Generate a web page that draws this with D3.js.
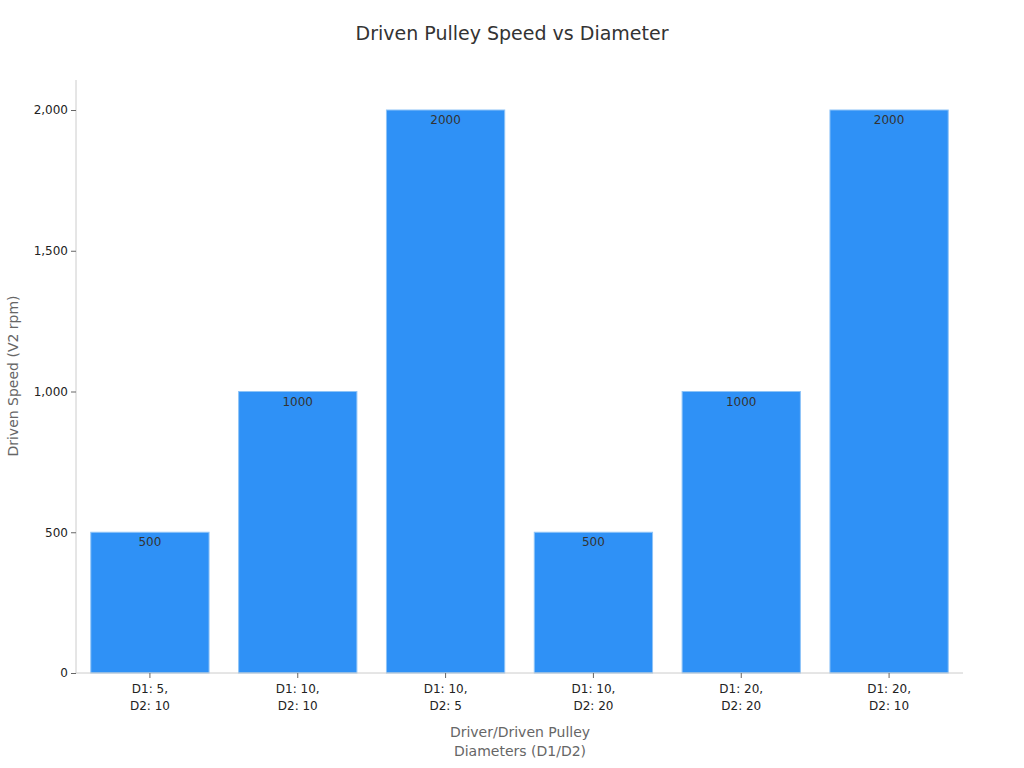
<!DOCTYPE html>
<html><head><meta charset="utf-8">
<script src="https://cdn.jsdelivr.net/npm/d3@7"></script>
<style>body{margin:0;background:#fff;font-family:"DejaVu Sans",sans-serif}</style>
</head><body><svg id="c" width="1024" height="768"></svg>
<script>
const categoriesLine1 = ["D1: 5,","D1: 10,","D1: 10,","D1: 10,","D1: 20,","D1: 20,"];
const categoriesLine2 = ["D2: 10","D2: 10","D2: 5","D2: 20","D2: 20","D2: 10"];
const speeds = [500,1000,2000,500,1000,2000];
const yTicks = [0,500,1000,1500,2000];

const svg = d3.select("#c");
const L=76,R=963,T=80,B=673;
const idx = speeds.map((d,i)=>i);
const x = d3.scaleBand().domain(idx).range([L,R]).paddingInner(0.2).paddingOuter(0.1);
const y = d3.scaleLinear().domain([0,2000]).range([B,110]);

svg.append("text").attr("x",512).attr("y",40).attr("text-anchor","middle")
  .attr("font-size",19).attr("fill","#333").text("Driven Pulley Speed vs Diameter");

svg.selectAll("rect.bar").data(speeds).enter().append("rect")
  .attr("x",(d,i)=>x(i)).attr("width",x.bandwidth())
  .attr("y",d=>y(d)).attr("height",d=>B-y(d))
  .attr("fill","#2f91f6").attr("stroke","#8ec4f7").attr("stroke-width",1);

svg.selectAll("text.lbl").data(speeds).enter().append("text")
  .attr("x",(d,i)=>x(i)+x.bandwidth()/2).attr("y",d=>y(d)+14)
  .attr("text-anchor","middle").attr("font-size",12).attr("fill","#333").text(d=>d);

const ya = svg.append("g").attr("transform",`translate(${L},0)`)
  .call(d3.axisLeft(y).tickValues(yTicks).tickSize(5).tickSizeOuter(0));
ya.select(".domain").attr("d",`M0,${T}V${B}`).attr("stroke","#ccc");
ya.selectAll(".tick line").attr("stroke","#666");
ya.selectAll(".tick text").attr("font-size",12).attr("fill","#222").attr("font-family","DejaVu Sans");

const xa = svg.append("g").attr("transform",`translate(0,${B})`)
  .call(d3.axisBottom(x).tickSize(5).tickSizeOuter(0).tickFormat(""));
xa.select(".domain").attr("d",`M${L},0H${R}`).attr("stroke","#ccc");
xa.selectAll(".tick line").attr("stroke","#666");
xa.selectAll(".tick").append("text").attr("y",20).attr("fill","#222").attr("font-size",12)
  .attr("font-family","DejaVu Sans").attr("text-anchor","middle").text(d=>categoriesLine1[d]);
xa.selectAll(".tick").append("text").attr("y",37).attr("fill","#222").attr("font-size",12)
  .attr("font-family","DejaVu Sans").attr("text-anchor","middle").text(d=>categoriesLine2[d]);

svg.append("text").attr("x",520).attr("y",737).attr("text-anchor","middle").attr("font-size",14).attr("fill","#666").text("Driver/Driven Pulley");
svg.append("text").attr("x",520).attr("y",756).attr("text-anchor","middle").attr("font-size",14).attr("fill","#666").text("Diameters (D1/D2)");
svg.append("text").attr("transform","translate(18,376) rotate(-90)").attr("text-anchor","middle")
  .attr("font-size",14).attr("fill","#666").text("Driven Speed (V2 rpm)");
</script></body></html>
